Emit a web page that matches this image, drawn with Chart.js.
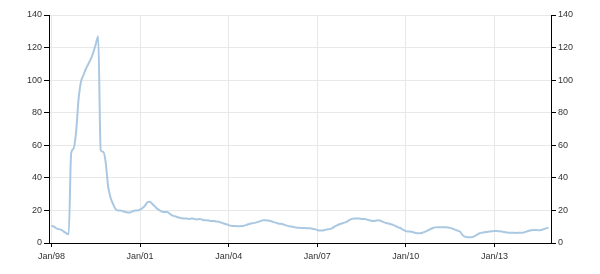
<!DOCTYPE html>
<html>
<head>
<meta charset="utf-8">
<script src="https://cdn.jsdelivr.net/npm/chart.js@4/dist/chart.umd.min.js"></script>
<style>
  html, body { margin: 0; padding: 0; background: #fff; }
  #wrap { width: 600px; height: 274px; position: relative; }
</style>
</head>
<body>
<div id="wrap"><canvas id="chart"></canvas></div>
<script>
// monthly values, Jan/98 .. Nov/14
const values = [
  10.6, 10, 9, 8.5, 8, 7, 6, 5.3, 55, 58,
  68, 88, 99, 103, 107, 110, 113, 117, 122, 127,
  57, 56, 50, 35, 28, 24, 21, 20, 20, 19.5,
  19, 18.8, 18.8, 19.5, 20, 20, 20.5, 21.5, 23, 25,
  25.4, 24, 22.5, 21, 20, 19.2, 19, 19, 18, 17,
  16.5, 16, 15.5, 15.2, 15, 15, 14.8, 15, 14.8, 14.5,
  14.7, 14.5, 14, 14, 13.8, 13.5, 13.5, 13.2, 13, 12.5,
  12, 11.5, 11, 10.6, 10.4, 10.4, 10.3, 10.4, 10.5, 11,
  11.5, 12, 12.2, 12.5, 13, 13.5, 14, 14, 13.8, 13.5,
  13, 12.5, 12, 11.8, 11.5, 11, 10.5, 10.2, 10, 9.6,
  9.4, 9.3, 9.2, 9.2, 9, 9, 8.8, 8.5, 8, 7.6,
  7.6, 8, 8.3, 8.6, 9, 10, 10.8, 11.5, 12, 12.5,
  13, 14, 14.8, 15.1, 15.1, 15, 14.8, 14.7, 14.5, 14,
  13.6, 13.5, 13.8, 14, 13.5, 12.8, 12.3, 12, 11.5, 11,
  10.3, 9.6, 9, 8, 7.3, 7.1, 7, 6.6, 6.2, 6,
  6, 6.5, 7, 7.8, 8.5, 9.2, 9.6, 9.7, 9.7, 9.6,
  9.6, 9.5, 9.3, 8.8, 8.2, 7.6, 7, 5, 3.9, 3.6,
  3.5, 3.6, 4.2, 5.2, 6, 6.3, 6.6, 6.8, 7, 7.2,
  7.4, 7.4, 7.2, 7, 6.8, 6.5, 6.3, 6.3, 6.3, 6.2,
  6.3, 6.3, 6.5, 7, 7.5, 7.8, 8, 8, 7.8, 8,
  8.5, 9, 9.4
];
// x tick positions (month index) and their labels
const xTickPos = [0, 36, 72, 108, 144, 180];
const xTickLabels = ['Jan/98', 'Jan/01', 'Jan/04', 'Jan/07', 'Jan/10', 'Jan/13'];
const yTicks = [0, 20, 40, 60, 80, 100, 120, 140];

const points = values.map((v, i) => ({ x: i, y: v }));

const tickFont = { family: 'Liberation Sans, Arial, sans-serif', size: 9 };
const gridColor = '#e8e8e8';

function yAxis(pos) {
  return {
    type: 'linear',
    position: pos,
    min: 0,
    max: 140,
    afterBuildTicks: s => { s.ticks = yTicks.map(v => ({ value: v })); },
    afterFit: s => { s.width = 49; },
    border: { color: '#000', width: 1 },
    grid: {
      color: gridColor,
      tickColor: '#000',
      tickLength: 5,
      drawOnChartArea: pos === 'left'
    },
    ticks: { color: '#333', font: tickFont, padding: 2 }
  };
}

new Chart(document.getElementById('chart'), {
  type: 'line',
  data: {
    datasets: [{
      data: points,
      borderColor: 'rgb(170,200,225)',
      borderWidth: 2,
      pointRadius: 0,
      cubicInterpolationMode: 'monotone',
      fill: false
    }]
  },
  options: {
    responsive: true,
    maintainAspectRatio: false,
    animation: false,
    layout: { padding: { top: 15, left: 0, right: 0, bottom: 0 } },
    plugins: { legend: { display: false }, tooltip: { enabled: false } },
    scales: {
      x: {
        type: 'linear',
        min: -1,
        max: 203,
        afterBuildTicks: s => { s.ticks = xTickPos.map(v => ({ value: v })); },
        afterFit: s => { s.height = 31; },
        border: { color: '#000', width: 1 },
        grid: { color: gridColor, tickColor: '#000', tickLength: 4 },
        ticks: {
          color: '#333',
          font: tickFont,
          maxRotation: 0,
          padding: 4,
          callback: v => xTickLabels[xTickPos.indexOf(v)]
        }
      },
      y: yAxis('left'),
      y2: yAxis('right')
    }
  }
});
</script>
</body>
</html>
